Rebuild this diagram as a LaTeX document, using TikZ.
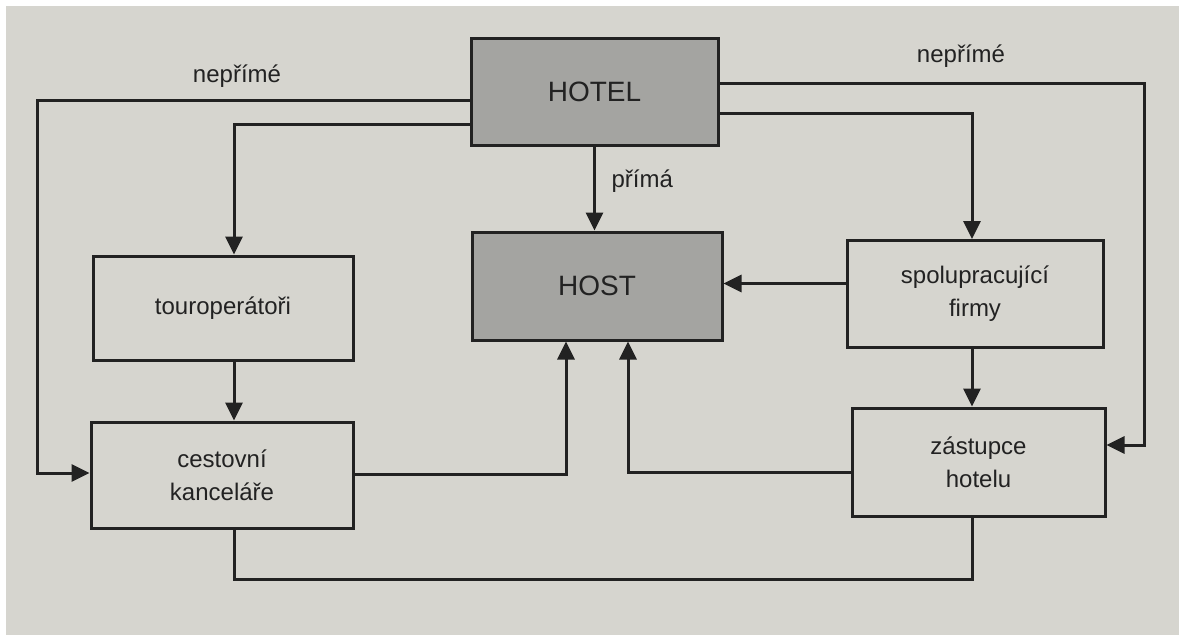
\documentclass[tikz,border=0pt]{standalone}
\usepackage{fontspec}
\setmainfont{Liberation Sans}
\usetikzlibrary{arrows.meta}
\definecolor{pagebg}{RGB}{214,213,207}
\definecolor{boxgrey}{RGB}{164,164,161}
\definecolor{ink}{RGB}{34,34,34}
\tikzset{
  lbl/.style={font=\fontsize{24}{33}\selectfont, text=ink, align=center},
  plainbox/.style={draw=ink, line width=3pt, lbl, inner sep=0pt},
  greybox/.style={plainbox, fill=boxgrey, font=\fontsize{28}{33}\selectfont},
  conn/.style={draw=ink, line width=3pt},
  arr/.style={conn, -{Triangle[length=18pt,width=17pt]}}
}
\begin{document}
\begin{tikzpicture}[x=1pt,y=-1pt]
\useasboundingbox (0,0) rectangle (1179,635);
\fill[white] (0,0) rectangle (1179,635);
\fill[pagebg] (6,6) rectangle (1179,635);

\node[greybox, minimum width=247pt, minimum height=107pt] (hotel) at (594.5,91.5) {HOTEL};
\node[greybox, minimum width=250pt, minimum height=108pt] (host) at (597,286) {HOST};
\node[plainbox, minimum width=260pt, minimum height=104pt] (tour) at (223,308) {touroperátoři};
\node[plainbox, minimum width=262pt, minimum height=106pt] (cest) at (222,475) {cestovní\\kanceláře};
\node[plainbox, minimum width=256pt, minimum height=107pt] (spol) at (975,294) {spolupracující\\firmy};
\node[plainbox, minimum width=253pt, minimum height=108pt] (zast) at (978.5,462) {zástupce\\hotelu};

\coordinate (lc) at (37,100);
\coordinate (rc) at (1144,83);
\coordinate (lx) at (234,0);
\coordinate (rx) at (972,0);
\coordinate (bl) at (234,579);
\coordinate (sw) at ([yshift=10.5pt]spol.west);

\node[lbl] (n1) at (237,76) {nepřímé};
\node[lbl] (n2) at (961,56) {nepřímé};
\node[lbl, anchor=west] (p1) at (608,181) {přímá};

% HOTEL -> cestovni (left outer)
\draw[arr] ([yshift=-8.5pt]hotel.west) -- (lc) |- ([yshift=2pt]cest.west);
% HOTEL -> touroperatori
\draw[arr] ([yshift=-32.5pt]hotel.west) -| (lx |- tour.north);
% HOTEL -> HOST
\draw[arr] (hotel.south) -- (hotel.south |- host.north);
% HOTEL -> zastupce (right outer)
\draw[arr] ([yshift=8.5pt]hotel.east) -- (rc) |- ([yshift=17pt]zast.east);
% HOTEL -> spolupracujici
\draw[arr] ([yshift=-21.5pt]hotel.east) -| (rx |- spol.north);
% spolupracujici -> HOST
\draw[arr] (sw) -- (host.east |- sw);
% touroperatori -> cestovni
\draw[arr] (lx |- tour.south) -- (lx |- cest.north);
% cestovni -> HOST
\draw[arr] ([yshift=1pt]cest.east) -| ([xshift=-31pt]host.south);
% zastupce -> HOST
\draw[arr] ([yshift=-10pt]zast.west) -| ([xshift=31pt]host.south);
% spolupracujici -> zastupce
\draw[arr] (rx |- spol.south) -- (rx |- zast.north);
% cestovni -- zastupce (bottom)
\draw[conn] (lx |- cest.south) -- (bl) -| (rx |- zast.south);
\end{tikzpicture}
\end{document}
